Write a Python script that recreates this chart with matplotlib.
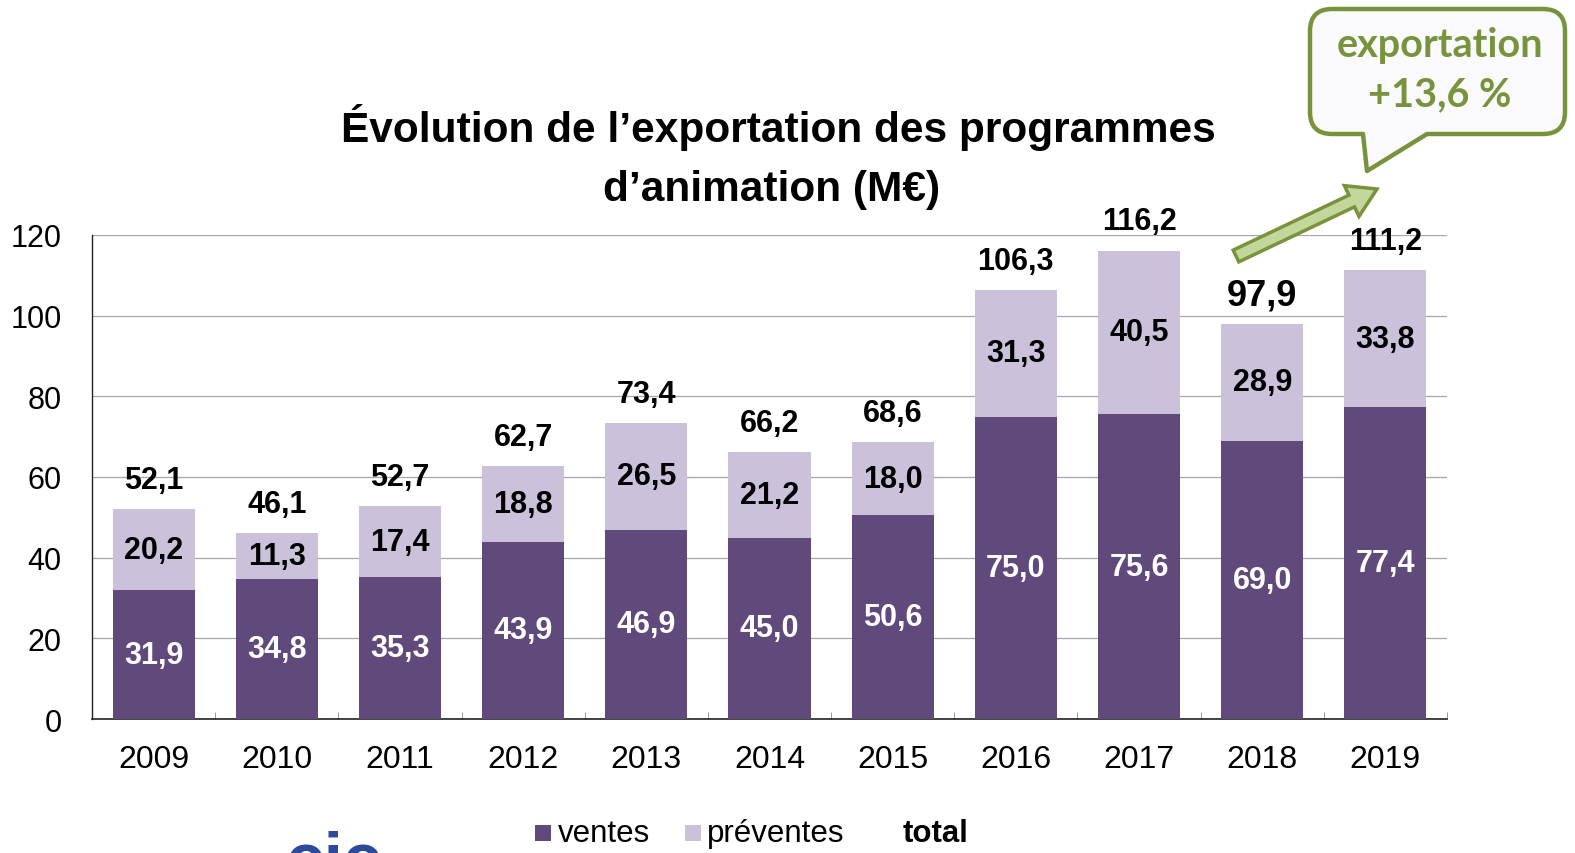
import matplotlib
matplotlib.use("Agg")
import matplotlib.pyplot as plt
import numpy as np
from matplotlib.path import Path
from matplotlib.patches import PathPatch, FancyArrow, Rectangle
from matplotlib.transforms import Affine2D

years = ['2009', '2010', '2011', '2012', '2013', '2014', '2015', '2016', '2017', '2018', '2019']
ventes = [31.9, 34.8, 35.3, 43.9, 46.9, 45.0, 50.6, 75.0, 75.6, 69.0, 77.4]
preventes = [20.2, 11.3, 17.4, 18.8, 26.5, 21.2, 18.0, 31.3, 40.5, 28.9, 33.8]
totals = [52.1, 46.1, 52.7, 62.7, 73.4, 66.2, 68.6, 106.3, 116.2, 97.9, 111.2]
yticks = [0, 20, 40, 60, 80, 100, 120]

DARK = '#604A7B'
LIGHT = '#CCC1DA'
GREEN = '#77933C'
GREEN_FILL = '#C3D69B'

plt.rcParams['font.family'] = ['Liberation Sans', 'DejaVu Sans']

W, H = 1575, 854
fig = plt.figure(figsize=(W / 100, H / 100), dpi=100)
ax = fig.add_axes([92 / W, 1 - 720 / H, (1447 - 92) / W, (720 - 236) / H])

x = np.arange(len(years))
bw = 0.666
ax.bar(x, ventes, width=bw, color=DARK, zorder=3)
ax.bar(x, preventes, width=bw, bottom=ventes, color=LIGHT, zorder=3)

def fmt(v):
    return f"{v:.1f}".replace('.', ',')

for i in range(len(years)):
    ax.text(x[i], ventes[i] / 2, fmt(ventes[i]), ha='center', va='center',
            color='white', fontsize=22, fontweight='bold', zorder=4)
    ax.text(x[i], ventes[i] + preventes[i] / 2, fmt(preventes[i]), ha='center', va='center',
            color='black', fontsize=22, fontweight='bold', zorder=4)
    fs = 26 if years[i] == '2018' else 22
    ax.annotate(fmt(totals[i]), (x[i], totals[i]), xytext=(0, 21), textcoords='offset points',
                ha='center', va='center', fontsize=fs, fontweight='bold', zorder=4)

ax.set_xlim(-0.5, len(years) - 0.5)
ax.set_ylim(0, 120)
ax.set_yticks(yticks)
ax.set_yticklabels([str(v) for v in yticks], fontsize=22)
ax.set_xticks(x)
ax.set_xticklabels(years, fontsize=23)
ax.tick_params(axis='y', length=0, pad=22)
ax.tick_params(axis='x', which='major', length=0, pad=18)
ax.set_xticks(np.arange(-0.5, len(years), 1.0), minor=True)
ax.tick_params(axis='x', which='minor', direction='in', length=5, color='#888888')
ax.yaxis.grid(True, color='#A6A6A6', linewidth=0.9, zorder=0)
ax.set_axisbelow(True)
for s in ['top', 'right']:
    ax.spines[s].set_visible(False)
ax.spines['left'].set_color('#222222')
ax.spines['bottom'].set_color('#222222')
ax.spines['left'].set_linewidth(1.0)
ax.spines['bottom'].set_linewidth(1.2)

# Title
fig.text(778 / W, 1 - 128 / H, "Évolution de l’exportation des programmes", ha='center', va='center',
         fontsize=30.5, fontweight='bold')
fig.text(772 / W, 1 - 190 / H, "d’animation (M€)", ha='center', va='center',
         fontsize=30.5, fontweight='bold')

# Pixel-space transform (top-left origin)
T = Affine2D().scale(1, -1).translate(0, H)

# Callout box
x0, x1, y0, y1, r = 1310, 1565, 10, 135, 22
verts = [(x0 + r, y0), (x1 - r, y0), (x1, y0), (x1, y0 + r), (x1, y1 - r), (x1, y1), (x1 - r, y1),
         (1427, y1), (1367, 172), (1363, y1), (x0 + r, y1), (x0, y1), (x0, y1 - r),
         (x0, y0 + r), (x0, y0), (x0 + r, y0), (x0 + r, y0)]
codes = [Path.MOVETO, Path.LINETO, Path.CURVE3, Path.CURVE3, Path.LINETO, Path.CURVE3, Path.CURVE3,
         Path.LINETO, Path.LINETO, Path.LINETO, Path.LINETO, Path.CURVE3, Path.CURVE3,
         Path.LINETO, Path.CURVE3, Path.CURVE3, Path.CLOSEPOLY]
fig.patches.append(PathPatch(Path(verts, codes), facecolor='#FAFAFC', edgecolor=GREEN,
                             linewidth=3.2, transform=T, figure=fig, joinstyle='round'))
fig.text(1440 / W, 1 - 45 / H, "exportation", ha='center', va='center', fontsize=28.5,
         fontweight='bold', color=GREEN, family=['Lato', 'DejaVu Sans'])
fig.text(1440 / W, 1 - 95 / H, "+13,6 %", ha='center', va='center', fontsize=28.5,
         fontweight='bold', color=GREEN, family=['Lato', 'DejaVu Sans'])

# Arrow
ax0, ay0, ax1_, ay1 = 1236, 257, 1377, 190
fig.patches.append(FancyArrow(ax0, ay0, ax1_ - ax0, ay1 - ay0, width=13, head_width=34,
                              head_length=28, length_includes_head=True,
                              facecolor=GREEN_FILL, edgecolor=GREEN, linewidth=2.5,
                              transform=T, figure=fig))

# Legend
fig.patches.append(Rectangle((535, 842), 16, -16, facecolor=DARK, edgecolor='none', transform=T, figure=fig))
fig.text(558 / W, 1 - 834 / H, "ventes", ha='left', va='center', fontsize=22.5)
fig.patches.append(Rectangle((685, 842), 16, -16, facecolor=LIGHT, edgecolor='none', transform=T, figure=fig))
fig.text(707 / W, 1 - 834 / H, "préventes", ha='left', va='center', fontsize=22.5)
fig.text(903 / W, 1 - 834 / H, "total", ha='left', va='center', fontsize=22.5, fontweight='bold')

# Partial logo at the bottom (cut by the figure edge, as in the reference)
fig.text(333 / W, 1 - 881 / H, "cic", ha='center', va='baseline', fontsize=50, fontweight='bold',
         color='#2C4A9A')

fig.savefig("out.png", dpi=100)
